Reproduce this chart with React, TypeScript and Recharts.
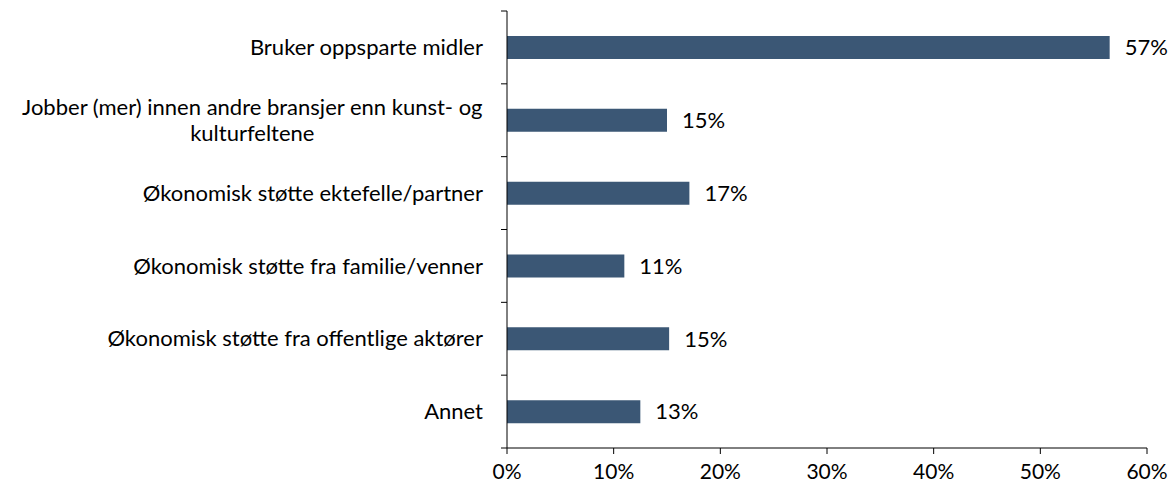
import React from "react";
import { BarChart, Bar, XAxis, YAxis, LabelList } from "recharts";

const categories = [
  "Bruker oppsparte midler",
  "Jobber (mer) innen andre bransjer enn kunst- og\nkulturfeltene",
  "Økonomisk støtte ektefelle/partner",
  "Økonomisk støtte fra familie/venner",
  "Økonomisk støtte fra offentlige aktører",
  "Annet",
];
const shares = [56.5, 15.0, 17.1, 11.0, 15.2, 12.5];
const xTicks = [0, 10, 20, 30, 40, 50, 60];

const data = categories.map((name, i) => ({ name, value: shares[i] }));

const FONT = "Lato, 'Open Sans', sans-serif";
const FONT_SIZE = 22;
const TICK_SIZE = 6;
const TICK_MARGIN = 18;
const LINE_H = 26;

let ctx: CanvasRenderingContext2D | null = null;
function textWidth(s: string) {
  if (!ctx) ctx = document.createElement("canvas").getContext("2d");
  if (!ctx) return s.length * FONT_SIZE * 0.5;
  ctx.font = `${FONT_SIZE}px Lato`;
  return ctx.measureText(s).width;
}

// category label + Excel-style tick marks on the band boundaries
const CategoryTick = (props: any) => {
  const { x, y, payload, index, visibleTicksCount, height } = props;
  const lines = String(payload.value).split("\n");
  const band = height / visibleTicksCount;
  const axisX = x + TICK_SIZE + TICK_MARGIN;
  const maxW = Math.max(...lines.map(textWidth));
  const multi = lines.length > 1;
  const startY = y - ((lines.length - 1) * LINE_H) / 2;
  return (
    <g>
      <line x1={axisX - TICK_SIZE} x2={axisX} y1={y - band / 2} y2={y - band / 2} stroke="#000" />
      {index === visibleTicksCount - 1 && (
        <line x1={axisX - TICK_SIZE} x2={axisX} y1={y + band / 2} y2={y + band / 2} stroke="#000" />
      )}
      {lines.map((ln, i) => (
        <text
          key={i}
          x={multi ? x - maxW / 2 : x}
          y={startY + i * LINE_H}
          dy="0.35em"
          textAnchor={multi ? "middle" : "end"}
          fill="#000"
          fontSize={FONT_SIZE}
          fontFamily={FONT}
        >
          {ln}
        </text>
      ))}
    </g>
  );
};

export default function App() {
  return (
    <div style={{ position: "absolute", left: 0, top: 0, background: "#fff" }}>
      <BarChart
        width={1175}
        height={488}
        data={data}
        layout="vertical"
        margin={{ top: 11, right: 28, bottom: 0, left: 0 }}
      >
        <XAxis
          type="number"
          domain={[0, 60]}
          ticks={xTicks}
          interval={0}
          tickFormatter={(v) => `${v}%`}
          axisLine={{ stroke: "#000" }}
          tickLine={{ stroke: "#000" }}
          tickSize={6}
          tickMargin={10}
          height={40}
          tick={{ fill: "#000", fontSize: 21, fontFamily: FONT }}
        />
        <YAxis
          type="category"
          dataKey="name"
          width={507}
          interval={0}
          axisLine={{ stroke: "#000" }}
          tickLine={false}
          tickSize={TICK_SIZE}
          tickMargin={TICK_MARGIN}
          tick={<CategoryTick />}
        />
        <Bar dataKey="value" fill="#3B5775" barSize={23} isAnimationActive={false}>
          <LabelList
            dataKey="value"
            position="right"
            offset={15}
            formatter={(v: any) => `${Math.round(Number(v))}%`}
            fill="#000"
            fontSize={FONT_SIZE}
            fontFamily={FONT}
          />
        </Bar>
      </BarChart>
    </div>
  );
}
